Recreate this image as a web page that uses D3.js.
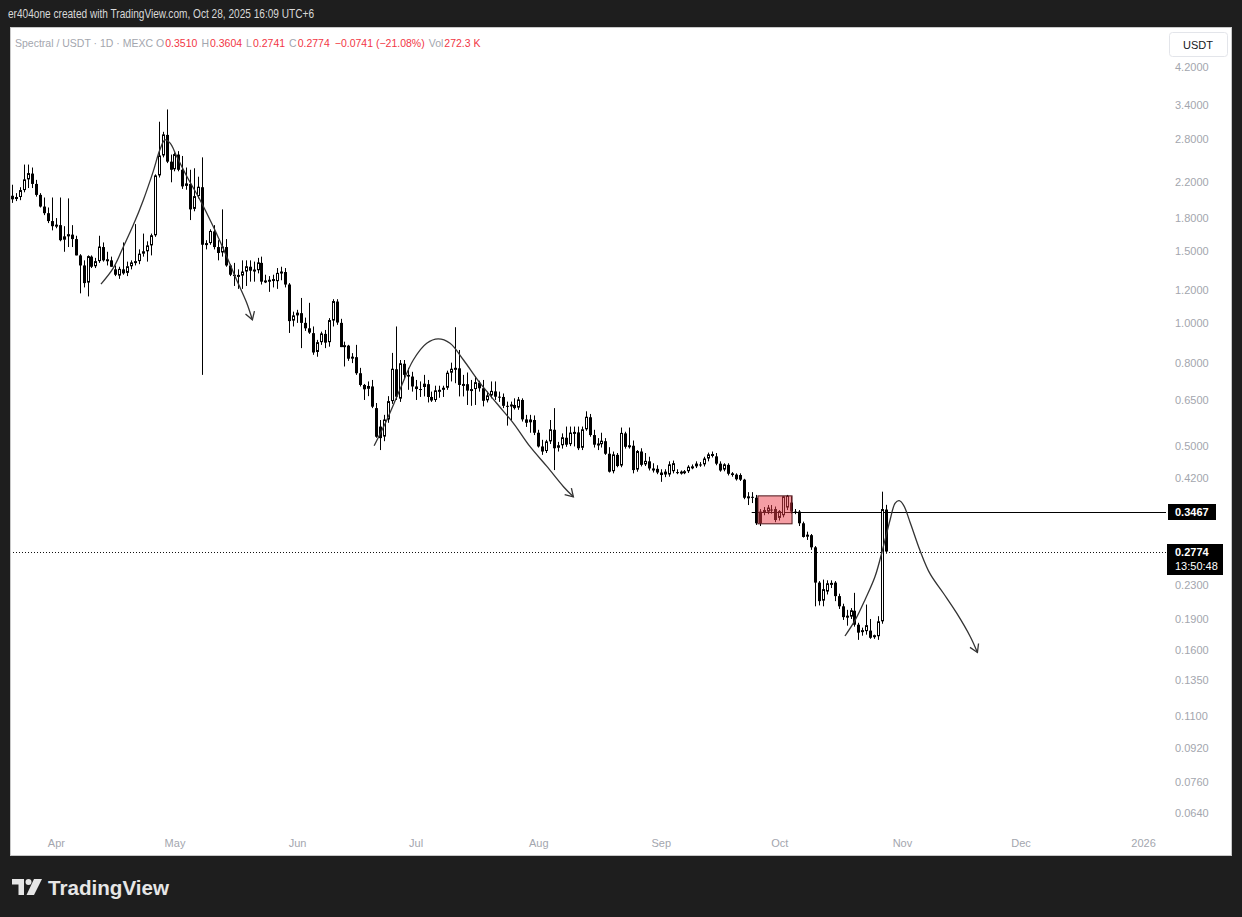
<!DOCTYPE html>
<html><head><meta charset="utf-8">
<script src="https://cdn.jsdelivr.net/npm/d3@7"></script>
<style>
html,body{margin:0;padding:0;background:#1e1e1e;}
svg{display:block;font-family:"Liberation Sans",Arial,sans-serif;}
</style></head><body>
<svg id="c" width="1242" height="917"></svg>
<script>
// ---------- DATA ----------
const startDate = "2025-03-21"; // first visible daily candle
const opens = [
2.04,2.00,2.02,2.10,2.23,2.31,2.18,2.05,1.92,1.85,
1.77,1.72,1.73,1.59,1.62,1.64,1.60,1.46,1.38,1.25,
1.45,1.37,1.41,1.53,1.42,1.42,1.35,1.30,1.35,1.32,
1.37,1.40,1.41,1.47,1.49,1.54,1.63,2.28,2.55,2.87,
2.47,2.36,2.57,2.36,2.15,2.18,1.89,2.03,2.14,1.55,
1.56,1.67,1.53,1.48,1.53,1.38,1.31,1.30,1.30,1.33,
1.37,1.34,1.34,1.40,1.26,1.265,1.27,1.26,1.32,1.33,
1.24,1.01,1.04,1.056,1.00,0.97,0.944,0.847,0.895,0.94,
0.895,1.01,1.127,1.00,0.873,0.88,0.818,0.825,0.754,0.706,
0.689,0.70,0.62,0.559,0.527,0.58,0.643,0.771,0.652,0.795,
0.747,0.74,0.70,0.69,0.696,0.709,0.66,0.647,0.683,0.685,
0.693,0.754,0.771,0.775,0.706,0.709,0.684,0.688,0.715,0.693,
0.646,0.664,0.681,0.661,0.66,0.628,0.626,0.631,0.62,0.649,
0.582,0.571,0.58,0.54,0.50,0.486,0.513,0.549,0.495,0.502,
0.525,0.505,0.539,0.541,0.495,0.549,0.589,0.533,0.505,0.505,
0.515,0.48,0.434,0.477,0.448,0.538,0.499,0.502,0.438,0.486,
0.451,0.46,0.442,0.441,0.432,0.426,0.426,0.434,0.433,0.432,
0.431,0.434,0.445,0.446,0.452,0.451,0.466,0.477,0.473,0.454,
0.438,0.451,0.43,0.427,0.426,0.415,0.375,0.377,0.375,0.347,
0.346,0.346,0.351,0.352,0.334,0.339,0.354,0.365,0.347,0.347,
0.325,0.301,0.304,0.284,0.233,0.210,0.221,0.2295,0.233,0.216,
0.204,0.192,0.192,0.199,0.184,0.176,0.177,0.178,0.172,0.172,
0.187,0.3510];
const highs = [
2.17,2.07,2.14,2.43,2.43,2.39,2.23,2.07,2.02,1.91,
2.02,1.80,2.02,1.72,2.01,1.73,1.63,1.47,1.42,1.46,
1.46,1.44,1.63,1.57,1.49,1.45,1.38,1.37,1.57,1.41,
1.42,1.74,1.51,1.65,1.58,1.65,2.30,3.09,2.92,3.31,
2.57,2.60,2.62,2.55,2.39,2.36,2.38,2.27,2.53,1.59,
1.69,1.73,1.59,1.89,1.60,1.39,1.40,1.35,1.42,1.42,
1.42,1.41,1.44,1.45,1.31,1.30,1.31,1.36,1.37,1.36,
1.25,1.065,1.076,1.15,1.03,1.119,0.98,0.909,0.952,0.961,
1.027,1.142,1.142,1.023,0.90,0.884,0.844,0.884,0.777,0.71,
0.72,0.726,0.638,0.58,0.597,0.663,0.845,0.98,0.812,0.812,
0.777,0.76,0.726,0.72,0.747,0.726,0.68,0.703,0.703,0.703,
0.765,0.80,0.976,0.859,0.747,0.757,0.726,0.742,0.723,0.726,
0.68,0.72,0.72,0.68,0.673,0.643,0.643,0.655,0.66,0.655,
0.597,0.597,0.595,0.549,0.519,0.519,0.58,0.62,0.513,0.538,
0.559,0.559,0.559,0.559,0.559,0.609,0.60,0.549,0.524,0.54,
0.524,0.498,0.486,0.482,0.556,0.543,0.556,0.517,0.49,0.495,
0.482,0.472,0.455,0.45,0.44,0.44,0.46,0.462,0.44,0.437,
0.438,0.45,0.452,0.46,0.458,0.472,0.483,0.486,0.482,0.46,
0.455,0.455,0.433,0.43,0.43,0.417,0.387,0.387,0.381,0.352,
0.356,0.36,0.36,0.357,0.35,0.378,0.381,0.378,0.352,0.35,
0.328,0.31,0.306,0.286,0.235,0.237,0.236,0.236,0.235,0.219,
0.207,0.20,0.202,0.22,0.186,0.181,0.206,0.19,0.174,0.193,
0.388,0.3604];
const lows = [
1.96,1.98,1.99,2.08,2.13,2.13,2.03,1.91,1.83,1.75,
1.68,1.70,1.58,1.49,1.53,1.53,1.46,1.18,1.22,1.16,
1.36,1.36,1.40,1.41,1.38,1.37,1.30,1.28,1.31,1.30,
1.35,1.38,1.39,1.45,1.41,1.46,1.62,2.26,2.53,2.45,
2.20,2.34,2.34,2.12,2.11,1.78,1.87,2.01,0.747,1.51,
1.55,1.51,1.42,1.45,1.37,1.30,1.23,1.21,1.21,1.23,
1.26,1.26,1.32,1.24,1.25,1.19,1.22,1.21,1.27,1.22,
0.945,0.98,1.00,0.868,0.956,0.94,0.836,0.827,0.884,0.868,
0.875,0.98,0.989,0.873,0.783,0.808,0.798,0.747,0.70,0.649,
0.663,0.62,0.525,0.49,0.515,0.571,0.635,0.649,0.642,0.734,
0.687,0.68,0.649,0.66,0.662,0.64,0.642,0.642,0.657,0.66,
0.687,0.72,0.713,0.662,0.662,0.631,0.628,0.631,0.68,0.626,
0.64,0.655,0.649,0.642,0.62,0.562,0.58,0.615,0.614,0.575,
0.558,0.54,0.533,0.497,0.477,0.482,0.507,0.438,0.486,0.494,
0.499,0.501,0.50,0.49,0.49,0.546,0.528,0.497,0.49,0.497,
0.477,0.432,0.43,0.445,0.445,0.494,0.494,0.43,0.434,0.447,
0.448,0.437,0.432,0.428,0.41,0.421,0.422,0.43,0.428,0.427,
0.428,0.431,0.44,0.443,0.446,0.447,0.46,0.47,0.45,0.434,
0.435,0.425,0.422,0.413,0.412,0.372,0.36,0.364,0.322,0.32,
0.34,0.342,0.343,0.327,0.33,0.336,0.35,0.343,0.342,0.32,
0.30,0.296,0.28,0.204,0.205,0.204,0.218,0.226,0.21,0.201,
0.189,0.183,0.19,0.182,0.169,0.173,0.174,0.17,0.17,0.169,
0.185,0.2741];
const closes = [
2.00,2.02,2.10,2.23,2.31,2.18,2.05,1.92,1.85,1.77,
1.72,1.73,1.59,1.62,1.64,1.60,1.46,1.38,1.25,1.45,
1.37,1.41,1.53,1.42,1.425,1.37,1.31,1.35,1.32,1.37,
1.40,1.41,1.47,1.49,1.54,1.63,2.28,2.55,2.87,2.47,
2.36,2.57,2.36,2.15,2.18,1.89,2.03,2.14,1.55,1.56,
1.67,1.53,1.48,1.53,1.38,1.31,1.30,1.305,1.33,1.37,
1.34,1.345,1.40,1.26,1.265,1.27,1.275,1.32,1.33,1.24,
1.01,1.04,1.056,1.00,0.97,0.947,0.847,0.895,0.94,0.895,
1.013,1.127,1.002,0.873,0.88,0.818,0.825,0.754,0.706,0.689,
0.70,0.625,0.528,0.524,0.58,0.643,0.771,0.661,0.795,0.747,
0.74,0.70,0.69,0.688,0.709,0.66,0.647,0.683,0.685,0.693,
0.754,0.771,0.775,0.706,0.708,0.684,0.688,0.715,0.693,0.646,
0.664,0.681,0.661,0.66,0.628,0.626,0.631,0.62,0.649,0.582,
0.571,0.58,0.54,0.50,0.486,0.513,0.549,0.495,0.502,0.525,
0.505,0.539,0.541,0.495,0.549,0.589,0.533,0.505,0.507,0.515,
0.48,0.434,0.477,0.448,0.538,0.499,0.502,0.438,0.486,0.451,
0.46,0.442,0.437,0.432,0.426,0.433,0.451,0.454,0.432,0.433,
0.434,0.445,0.446,0.453,0.451,0.466,0.477,0.478,0.454,0.437,
0.451,0.429,0.426,0.416,0.415,0.375,0.377,0.376,0.325,0.325,
0.349,0.354,0.35,0.331,0.347,0.377,0.378,0.347,0.346,0.325,
0.301,0.304,0.284,0.233,0.210,0.224,0.2315,0.232,0.216,0.204,
0.192,0.193,0.199,0.184,0.176,0.178,0.183,0.171,0.173,0.187,
0.351,0.2774];

const priceTicks = [4.2,3.4,2.8,2.2,1.8,1.5,1.2,1.0,0.8,0.65,0.5,0.42,0.23,0.19,0.16,0.135,0.11,0.092,0.076,0.064];
const monthTicks = ["2025-04-01","2025-05-01","2025-06-01","2025-07-01","2025-08-01","2025-09-01","2025-10-01","2025-11-01","2025-12-01","2026-01-01"];
const monthLabels = ["Apr","May","Jun","Jul","Aug","Sep","Oct","Nov","Dec","2026"];

const levelPrice = 0.3467;
const levelStart = "2025-09-24";
const lastPrice = 0.2774;
const countdown = "13:50:48";
// highlighted consolidation box
const boxStart = "2025-09-25T14:00:00Z", boxEnd = "2025-10-04T05:00:00Z";
const boxTop = 0.379, boxBottom = 0.324;

// hand-drawn arrows: [days since 2025-04-01, price]
const arrow1 = [[11.4,1.243],[14.5,1.359],[17.1,1.535],[19.6,1.733],[22.1,1.99],[24.6,2.336],[26.3,2.64],[27.6,2.79],[28.9,2.74],[30.6,2.54],[33.1,2.275],[36.5,1.99],[39.8,1.716],[43.2,1.451],[45.7,1.273],[48.3,1.117],[49.7,1.017]];
const arrow2 = [[80.5,0.502],[83.7,0.58],[87.0,0.687],[90.4,0.812],[93.8,0.892],[96.7,0.914],[99.7,0.892],[103.1,0.812],[107.3,0.713],[111.5,0.637],[115.7,0.570],[119.9,0.500],[124.2,0.447],[128.4,0.399],[130.9,0.377]];
const arrow3 = [[199.6,0.1727],[202.2,0.189],[204.7,0.212],[207.2,0.241],[209.3,0.285],[211.0,0.331],[212.3,0.364],[213.3,0.369],[214.4,0.36],[216.1,0.326],[218.7,0.277],[221.1,0.245],[224.5,0.2195],[227.9,0.196],[231.3,0.172],[233.1,0.1575]];

const legendTitle = "Spectral / USDT · 1D · MEXC";
const legendO = "0.3510", legendH = "0.3604", legendL = "0.2741", legendC = "0.2774";
const legendChg = "−0.0741 (−21.08%)", legendVol = "272.3 K";

// ---------- LAYOUT ----------
const W = 1242, H = 917;
const DAY = 864e5;
const apr1 = Date.UTC(2025,3,1);
const plot = {l:10, r:1166, t:28, b:828};
const svg = d3.select("#c");
const GRAY = "#a3a6ae", RED = "#f23645";

svg.append("rect").attr("width",W).attr("height",H).attr("fill","#1e1e1e");
svg.append("rect").attr("x",10.5).attr("y",27.5).attr("width",1221).attr("height",828)
  .attr("fill","#fff").attr("stroke","#c8c8c8");

svg.append("text").attr("x",8).attr("y",18).attr("fill","#d8d8d8").attr("font-size",13)
  .attr("textLength",306).attr("lengthAdjust","spacingAndGlyphs")
  .text("er404one created with TradingView.com, Oct 28, 2025 16:09 UTC+6");

const x = d3.scaleUtc()
  .domain([new Date(apr1 - 11.61*DAY), new Date(apr1 + 280.8*DAY)])
  .range([plot.l, plot.r]);
const y = d3.scaleLog().domain([4.2, 0.064]).range([67, 813]);

svg.append("defs").append("clipPath").attr("id","clip")
  .append("rect").attr("x",plot.l+1).attr("y",plot.t).attr("width",plot.r-plot.l-1).attr("height",plot.b-plot.t);

const g = svg.append("g").attr("clip-path","url(#clip)");

// last price dotted line
g.append("line").attr("x1",plot.l).attr("x2",plot.r)
  .attr("y1",Math.round(y(lastPrice))+0.5).attr("y2",Math.round(y(lastPrice))+0.5)
  .attr("stroke","#111").attr("stroke-dasharray","1,2");

// level line
g.append("line").attr("x1",x(new Date(levelStart))).attr("x2",plot.r)
  .attr("y1",Math.round(y(levelPrice))+0.5).attr("y2",Math.round(y(levelPrice))+0.5)
  .attr("stroke","#000").attr("stroke-width",1);

// candles
const candles = opens.map((o,i)=>({date:d3.utcDay.offset(new Date(startDate),i),o,h:highs[i],l:lows[i],c:closes[i]}));
const cg = g.append("g");
candles.forEach(d=>{
  const cx = Math.round(x(d.date)) + 0.5;
  cg.append("line").attr("x1",cx).attr("x2",cx).attr("y1",y(d.h)).attr("y2",y(d.l))
    .attr("stroke","#000").attr("stroke-width",1);
  const yt = y(Math.max(d.o,d.c)), yb = y(Math.min(d.o,d.c));
  const hgt = Math.max(1, yb-yt);
  if (d.c >= d.o) {
    cg.append("rect").attr("x",cx-1).attr("y",yt).attr("width",2).attr("height",Math.max(1,hgt-1))
      .attr("fill","#fff").attr("stroke","#000").attr("stroke-width",1);
  } else {
    cg.append("rect").attr("x",cx-1.5).attr("y",yt).attr("width",3).attr("height",hgt)
      .attr("fill","#000");
  }
});

// highlighted box
g.append("rect").attr("x",x(new Date(boxStart))).attr("y",y(boxTop))
  .attr("width",x(new Date(boxEnd))-x(new Date(boxStart))).attr("height",y(boxBottom)-y(boxTop))
  .attr("fill","rgba(236,62,74,0.5)").attr("stroke","#4a1418").attr("stroke-width",1);

// hand-drawn arrows
const line = d3.line().x(p=>x(new Date(apr1+p[0]*DAY))).y(p=>y(p[1])).curve(d3.curveCatmullRom.alpha(0.5));
[arrow1,arrow2,arrow3].forEach(pts=>{
  g.append("path").attr("d",line(pts)).attr("fill","none").attr("stroke","#333").attr("stroke-width",1.3);
  const a = pts[pts.length-2], b = pts[pts.length-1];
  const bx = x(new Date(apr1+b[0]*DAY)), by = y(b[1]);
  const ax = x(new Date(apr1+a[0]*DAY)), ay = y(a[1]);
  const ang = Math.atan2(by-ay, bx-ax);
  const L = 9;
  const p1 = [bx - L*Math.cos(ang-0.55), by - L*Math.sin(ang-0.55)];
  const p2 = [bx - L*Math.cos(ang+0.55), by - L*Math.sin(ang+0.55)];
  g.append("path").attr("d",`M${p1[0]},${p1[1]}L${bx},${by}L${p2[0]},${p2[1]}`)
    .attr("fill","none").attr("stroke","#333").attr("stroke-width",1.3);
});

// price axis
const yAxis = d3.axisRight(y).tickValues(priceTicks).tickFormat(d3.format(".4f")).tickSize(0).tickPadding(9);
const ya = svg.append("g").attr("transform",`translate(${plot.r},0)`).call(yAxis);
ya.select(".domain").remove();
ya.selectAll("text").attr("fill",GRAY).attr("font-size",11).attr("font-family","Liberation Sans, Arial, sans-serif");

// time axis
const xAxis = d3.axisBottom(x).tickValues(monthTicks.map(s=>new Date(s)))
  .tickFormat((d,i)=>monthLabels[i]).tickSize(0).tickPadding(0);
const xa = svg.append("g").attr("transform",`translate(0,839)`).call(xAxis);
xa.select(".domain").remove();
xa.selectAll("text").attr("fill",GRAY).attr("font-size",11).attr("font-family","Liberation Sans, Arial, sans-serif");

// USDT button
svg.append("rect").attr("x",1169.5).attr("y",32.5).attr("width",58).attr("height",24).attr("rx",3)
  .attr("fill","#fff").attr("stroke","#e3e5ea");
svg.append("text").attr("x",1198).attr("y",48.5).attr("text-anchor","middle").attr("font-size",11)
  .attr("fill","#131722").text("USDT");

// level label
const ly = Math.round(y(levelPrice));
svg.append("rect").attr("x",1168).attr("y",ly-8).attr("width",48).attr("height",16).attr("fill","#000");
svg.append("text").attr("x",1175).attr("y",ly+4).attr("fill","#fff").attr("font-size",11).attr("font-weight","bold").text(levelPrice.toFixed(4));
// last price label
const lpy = Math.round(y(lastPrice));
svg.append("rect").attr("x",1167).attr("y",lpy-8).attr("width",56).attr("height",31).attr("fill","#000");
svg.append("text").attr("x",1175).attr("y",lpy+4).attr("fill","#fff").attr("font-size",11).attr("font-weight","bold").text(lastPrice.toFixed(4));
svg.append("text").attr("x",1175).attr("y",lpy+18).attr("fill","#fff").attr("font-size",11).text(countdown);

// legend: pieces laid out left to right using measured widths
const legendParts = [
  [legendTitle,GRAY,0],["O",GRAY,3],[legendO,RED,1],["H",GRAY,4],[legendH,RED,1],
  ["L",GRAY,4],[legendL,RED,1],["C",GRAY,4],[legendC,RED,1],
  [legendChg,RED,5],["Vol",GRAY,4],[legendVol,RED,1]
];
let lx = 15;
legendParts.forEach(p=>{
  lx += p[2];
  const t = svg.append("text").attr("x",lx).attr("y",46.5).attr("font-size",10.5).attr("fill",p[1]).text(p[0]);
  lx += t.node().getComputedTextLength();
});

// footer logo
const fg = svg.append("g").attr("fill","#e6e6e6");
fg.append("path").attr("d","M12,879 h12 v16 h-5.5 v-10.5 h-6.5 z");
fg.append("circle").attr("cx",28.5).attr("cy",882).attr("r",3);
fg.append("path").attr("d","M34,879 h8 l-8,16 h-7.5 z");
fg.append("text").attr("x",48).attr("y",894.5).attr("font-size",20).attr("font-weight","bold")
  .attr("textLength",121).attr("lengthAdjust","spacingAndGlyphs").text("TradingView");
</script>
</body></html>
